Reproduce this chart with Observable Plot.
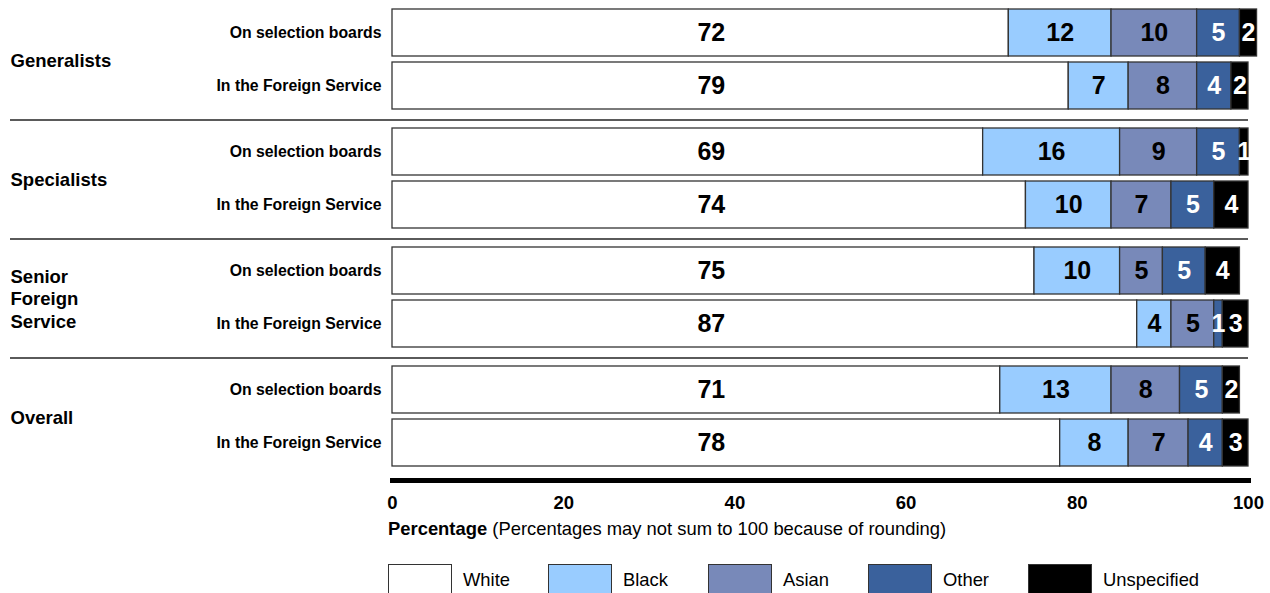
<!DOCTYPE html>
<html><head><meta charset="utf-8">
<script src="https://cdn.jsdelivr.net/npm/d3@7"></script>
<script src="https://cdn.jsdelivr.net/npm/@observablehq/plot@0.6"></script>
<style>
body{margin:0;background:#fff;font-family:"Liberation Sans",Arial,sans-serif;}
#wrap{position:relative;width:1270px;height:593px;overflow:hidden}
#chart{position:absolute;left:0;top:0}
#caption{position:absolute;left:388px;top:518px;font-size:18.4px;line-height:22px;color:#000;white-space:nowrap}
#legend{position:absolute;left:388px;top:564px;display:flex;width:882px}
.item{width:160px;flex:none;display:flex;align-items:flex-start}
.sw{width:64px;height:32px;flex:none;border:1px solid #333;box-sizing:border-box}
.lab{margin-left:11px;font-size:18.4px;line-height:31px;color:#000;white-space:nowrap}
</style></head><body>
<div id="wrap"><div id="chart"></div><div id="caption"></div><div id="legend"></div></div>
<script>
const groupKeys = ["Generalists", "Specialists", "Senior Foreign Service", "Overall"];
const groupLabels = ["Generalists", "Specialists", "Senior\nForeign\nService", "Overall"];
const rowKeys = ["On selection boards", "In the Foreign Service"];
const categories = ["White", "Black", "Asian", "Other", "Unspecified"];
const colors = ["#ffffff", "#99ccff", "#7889b9", "#3a619c", "#000000"];
const xTicks = [0, 20, 40, 60, 80, 100];
// values per bar, in order: Gen boards, Gen FS, Spec boards, Spec FS, SFS boards, SFS FS, Overall boards, Overall FS
const white = [72, 79, 69, 74, 75, 87, 71, 78];
const black = [12, 7, 16, 10, 10, 4, 13, 8];
const asian = [10, 8, 9, 7, 5, 5, 8, 7];
const other = [5, 4, 5, 5, 5, 1, 5, 4];
const unspecified = [2, 2, 1, 4, 4, 3, 2, 3];
const captionBold = "Percentage";
const captionRest = " (Percentages may not sum to 100 because of rounding)";

const series = [white, black, asian, other, unspecified];
const data = [];
groupKeys.forEach((g, gi) => rowKeys.forEach((r, ri) => {
  const i = gi * 2 + ri;
  categories.forEach((c, ci) => data.push({group: g, row: r, cat: c, ci, value: series[ci][i]}));
}));
const whiteX = d3.median(white) / 2;

const chart = Plot.plot({
  width: 1270, height: 515,
  marginLeft: 392, marginRight: 22, marginTop: 0, marginBottom: 39,
  style: {fontFamily: "Liberation Sans, Arial, sans-serif", background: "#fff", color: "#000"},
  x: {domain: [0, 100]},
  y: {domain: rowKeys, paddingInner: 0.112, paddingOuter: 0.168},
  fy: {domain: groupKeys, padding: 0, axis: null},
  color: {domain: categories, range: colors},
  marks: [
    Plot.rect(groupKeys.slice(1), {fy: d => d, fill: "#5a5a5a", insetLeft: -382, insetBottom: 117}),
    Plot.barX(data, {x: "value", y: "row", fy: "group", fill: "cat", stroke: "#333", strokeWidth: 1.3}),
    Plot.text(data.filter(d => d.ci === 0), {x: () => whiteX, y: "row", fy: "group", text: d => String(d.value),
      fill: "#000", fontSize: 25, fontWeight: "bold"}),
    Plot.text(data, Plot.stackX({x: "value", y: "row", fy: "group", z: "cat",
      text: d => (d.ci === 1 || d.ci === 2) ? String(d.value) : null,
      fill: "#000", fontSize: 25, fontWeight: "bold"})),
    Plot.text(data, Plot.stackX({x: "value", y: "row", fy: "group", z: "cat",
      text: d => (d.ci >= 3) ? String(d.value) : null,
      fill: "#fff", fontSize: 25, fontWeight: "bold"})),
    Plot.text(groupKeys, {fy: d => d, text: (d, i) => groupLabels[i], frameAnchor: "left", dx: -382,
      textAnchor: "start", fontSize: 18.5, fontWeight: "bold", lineHeight: 1.22}),
    Plot.frame({anchor: "bottom", facetAnchor: "bottom", stroke: "#000", strokeWidth: 5, insetBottom: -4}),
    Plot.axisX(xTicks, {tickSize: 0, tickPadding: 19, fontSize: 18.5, fontWeight: "bold", label: null}),
    Plot.axisY({tickSize: 0, tickPadding: 11, fontSize: 15.8, fontWeight: "bold", label: null})
  ]
});
document.getElementById("chart").appendChild(chart);

const cap = document.getElementById("caption");
const b = document.createElement("b"); b.textContent = captionBold;
cap.appendChild(b); cap.appendChild(document.createTextNode(captionRest));

const legend = document.getElementById("legend");
categories.forEach((c, i) => {
  const it = document.createElement("div"); it.className = "item";
  const sw = document.createElement("div"); sw.className = "sw"; sw.style.background = colors[i];
  const lb = document.createElement("div"); lb.className = "lab"; lb.textContent = c;
  it.appendChild(sw); it.appendChild(lb); legend.appendChild(it);
});
</script>
</body></html>
